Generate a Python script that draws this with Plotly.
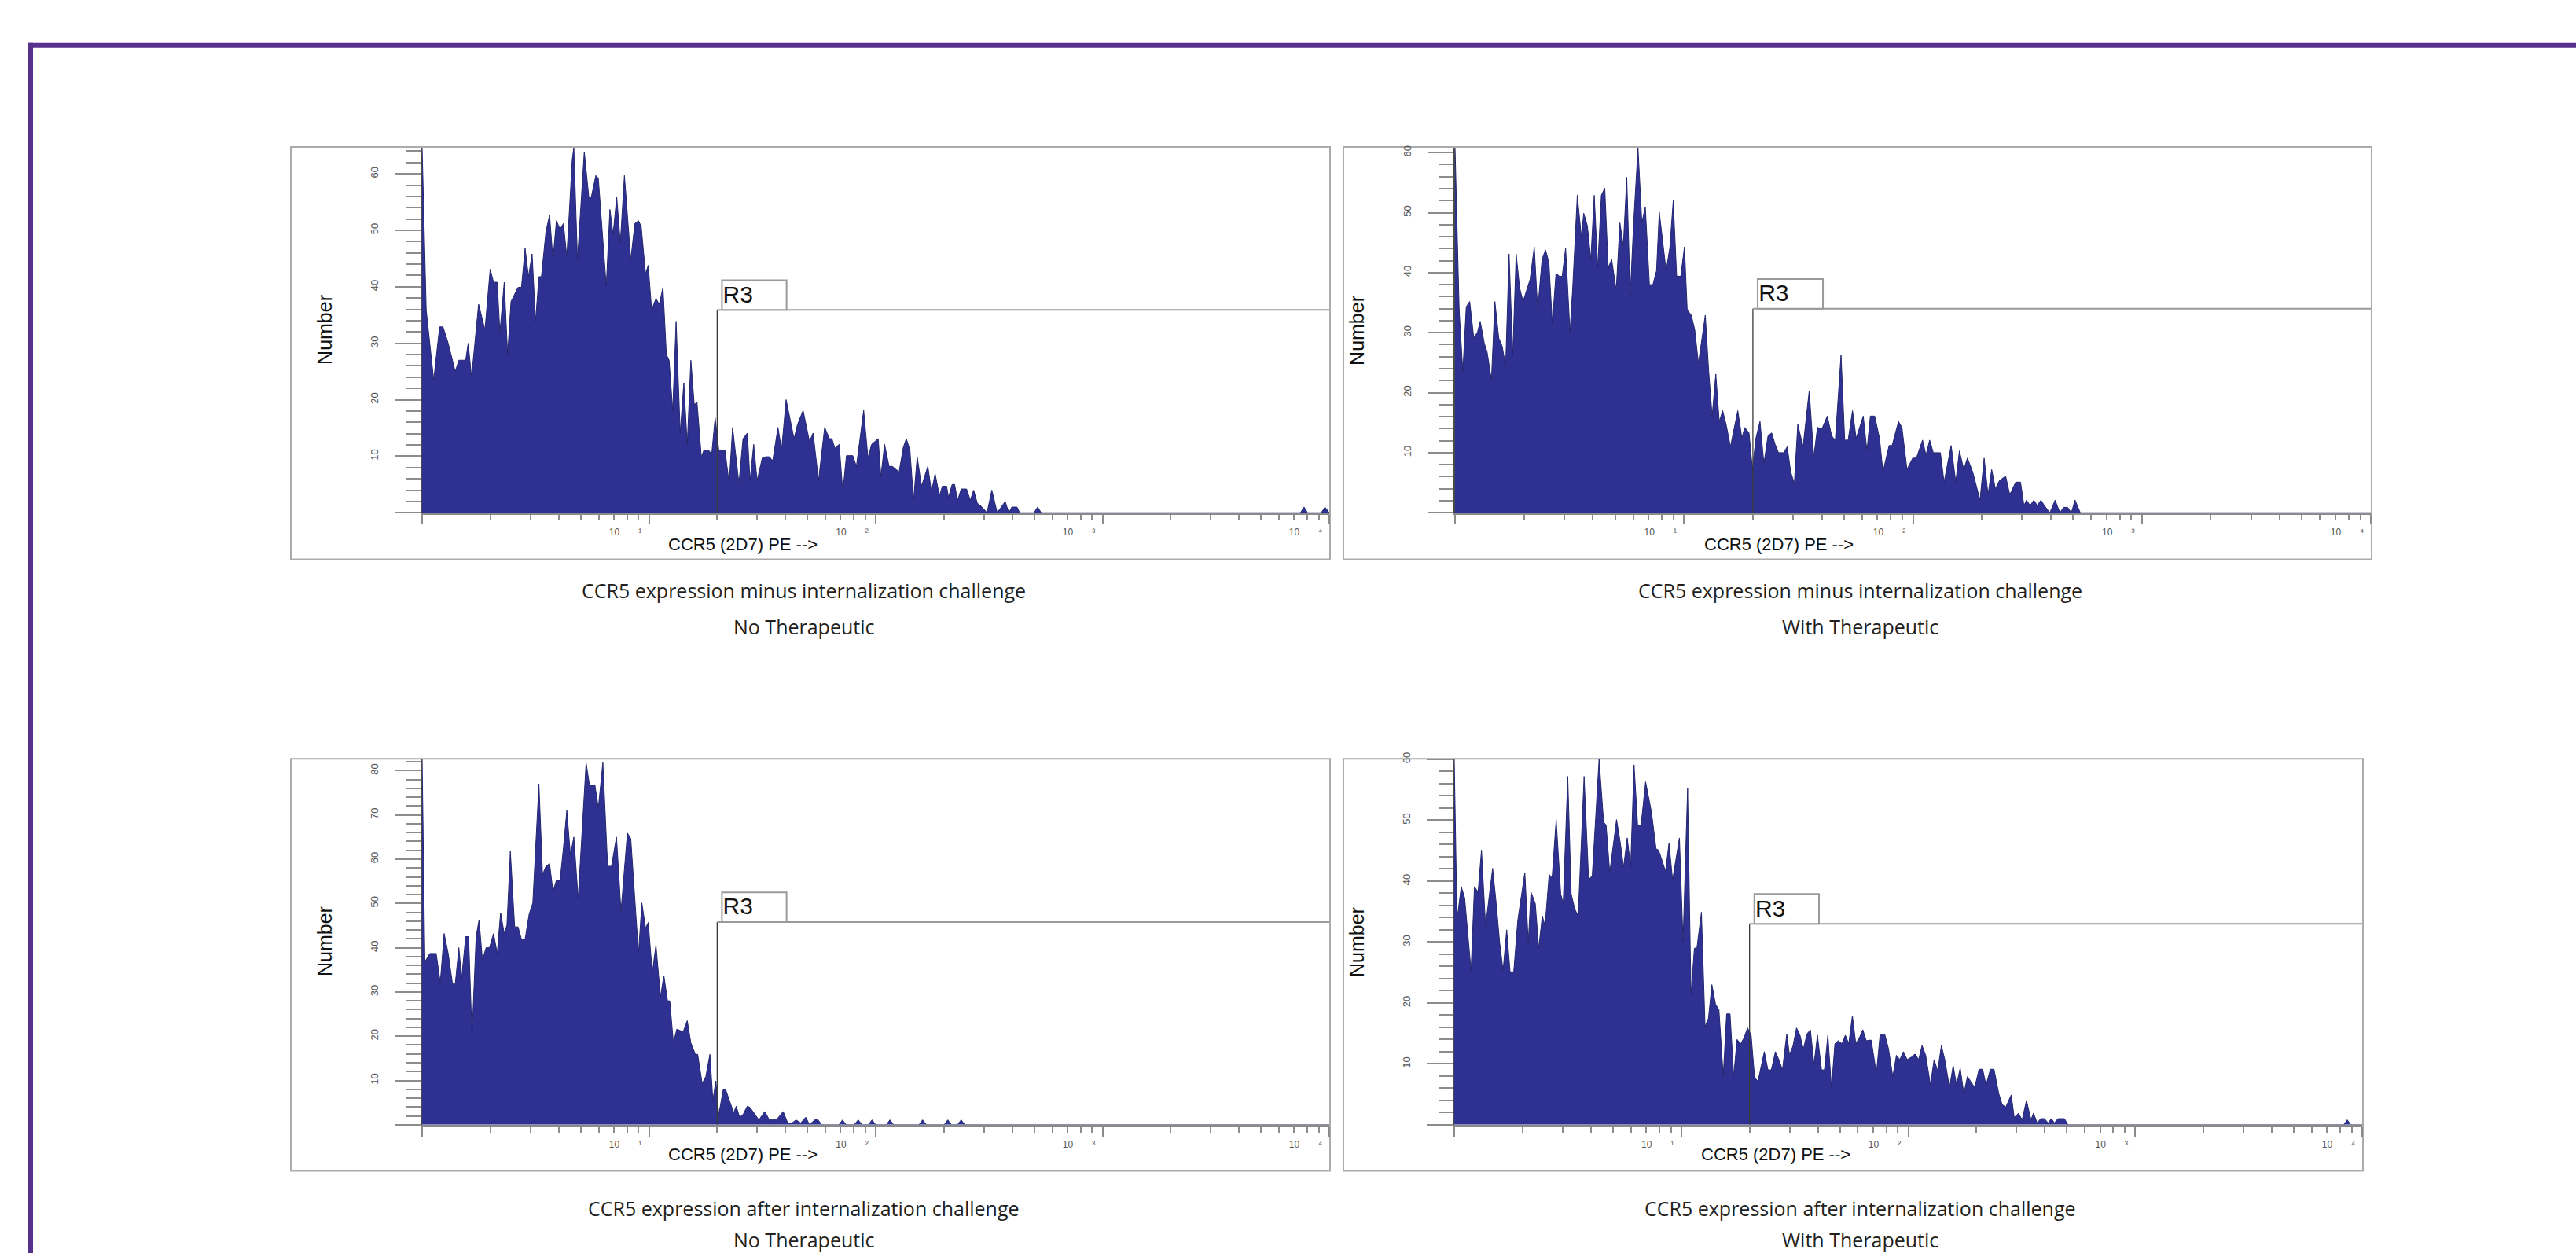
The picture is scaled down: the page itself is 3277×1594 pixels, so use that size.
import plotly.graph_objects as go

W, H = 3277, 1594

# ---------------- data ----------------
# x: log10 of CCR5 (2D7) PE intensity, y: number of events (histogram outline vertices)
tl_log_pe = [0.000, 0.018, 0.051, 0.077, 0.092, 0.115, 0.146, 0.162, 0.192, 0.203, 0.218, 0.249, 0.277, 0.300,
             0.315, 0.331, 0.343, 0.362, 0.377, 0.392, 0.423, 0.438, 0.454, 0.469, 0.485, 0.500, 0.515, 0.526,
             0.546, 0.562, 0.577, 0.592, 0.608, 0.623, 0.638, 0.662, 0.669, 0.685, 0.715, 0.735, 0.746, 0.766,
             0.777, 0.812, 0.828, 0.842, 0.858, 0.874, 0.892, 0.920, 0.938, 0.954, 0.966, 0.985, 0.997, 1.012,
             1.031, 1.046, 1.062, 1.077, 1.089, 1.105, 1.120, 1.138, 1.154, 1.169, 1.185, 1.200, 1.212, 1.231,
             1.243, 1.262, 1.277, 1.292, 1.308, 1.335, 1.354, 1.369, 1.397, 1.415, 1.434, 1.446, 1.462, 1.477,
             1.500, 1.515, 1.531, 1.546, 1.569, 1.585, 1.605, 1.640, 1.655, 1.680, 1.708, 1.724, 1.748, 1.775,
             1.796, 1.807, 1.820, 1.839, 1.855, 1.871, 1.899, 1.915, 1.947, 1.966, 1.982, 2.011, 2.023, 2.039,
             2.059, 2.074, 2.103, 2.122, 2.135, 2.151, 2.167, 2.183, 2.202, 2.230, 2.246, 2.262, 2.281, 2.294,
             2.313, 2.321, 2.337, 2.348, 2.361, 2.377, 2.401, 2.417, 2.432, 2.448, 2.469, 2.491, 2.512, 2.536,
             2.571, 2.587, 2.600, 2.623, 2.635, 2.698, 2.714, 2.730, 3.873, 3.889, 3.904, 3.965, 3.981, 4.000]
tl_count = [64.6, 35.9, 23.5, 32.9, 32.9, 30.0, 25.0, 27.0, 27.0, 30.0, 24.0, 36.9, 32.4, 43.1,
            40.8, 40.8, 31.9, 40.8, 28.0, 37.4, 39.9, 39.9, 46.8, 41.8, 45.8, 33.9, 41.8, 41.8,
            49.8, 52.7, 44.8, 51.7, 50.2, 51.2, 45.3, 62.6, 64.6, 44.8, 63.9, 55.9, 55.9, 59.7,
            59.2, 40.1, 53.7, 49.3, 55.9, 47.8, 59.7, 44.8, 51.2, 51.7, 50.7, 42.3, 43.8, 35.9,
            37.9, 36.9, 39.9, 28.0, 27.0, 18.1, 33.9, 14.1, 23.0, 12.1, 27.0, 19.1, 19.6, 9.9,
            11.1, 11.1, 10.4, 16.8, 11.1, 11.1, 5.2, 15.1, 5.2, 13.1, 14.1, 5.7, 12.1, 5.7,
            9.7, 9.9, 9.9, 9.2, 15.1, 11.1, 20.0, 13.1, 15.6, 18.1, 12.6, 14.1, 5.7, 15.1,
            13.1, 13.1, 11.4, 12.1, 3.7, 10.1, 10.1, 8.2, 18.1, 9.7, 12.1, 13.1, 6.4, 12.1,
            8.2, 8.2, 7.2, 11.6, 13.1, 11.1, 2.2, 9.9, 4.7, 8.2, 3.7, 6.9, 3.0, 4.7,
            4.7, 2.7, 5.0, 5.0, 2.2, 4.2, 4.2, 2.2, 4.0, 1.7, 1.0, 0.0, 4.0, 0.0,
            2.0, 0.0, 1.0, 1.0, 0.0, 0.0, 1.0, 0.0, 0.0, 1.0, 0.0, 0.0, 1.0, 0.0]

tr_log_pe = [0.000, 0.018, 0.034, 0.049, 0.064, 0.082, 0.098, 0.110, 0.128, 0.140, 0.159, 0.174, 0.191, 0.206,
             0.221, 0.236, 0.252, 0.267, 0.282, 0.297, 0.328, 0.346, 0.361, 0.380, 0.395, 0.410, 0.425, 0.441,
             0.456, 0.468, 0.483, 0.502, 0.514, 0.534, 0.552, 0.562, 0.578, 0.593, 0.608, 0.623, 0.639, 0.654,
             0.669, 0.684, 0.704, 0.720, 0.735, 0.750, 0.765, 0.780, 0.799, 0.816, 0.831, 0.849, 0.864, 0.880,
             0.892, 0.907, 0.922, 0.938, 0.953, 0.968, 0.986, 1.002, 1.014, 1.032, 1.047, 1.063, 1.081, 1.093,
             1.108, 1.123, 1.139, 1.154, 1.169, 1.184, 1.203, 1.215, 1.235, 1.253, 1.265, 1.284, 1.299, 1.314,
             1.332, 1.349, 1.367, 1.383, 1.398, 1.413, 1.436, 1.451, 1.466, 1.482, 1.497, 1.520, 1.547, 1.567,
             1.583, 1.603, 1.626, 1.645, 1.661, 1.686, 1.702, 1.717, 1.736, 1.752, 1.783, 1.799, 1.814, 1.833,
             1.854, 1.869, 1.896, 1.909, 1.937, 1.952, 1.974, 1.999, 2.015, 2.042, 2.057, 2.073, 2.089, 2.120,
             2.136, 2.167, 2.187, 2.203, 2.222, 2.238, 2.261, 2.293, 2.311, 2.328, 2.344, 2.360, 2.379, 2.405,
             2.423, 2.449, 2.470, 2.485, 2.496, 2.512, 2.528, 2.543, 2.559, 2.574, 2.598, 2.621, 2.642, 2.658,
             2.676, 2.692, 2.708, 2.731, 4.000]
tr_count = [60.8, 33.8, 23.5, 34.3, 35.2, 29.1, 30.1, 31.9, 28.2, 26.8, 22.1, 35.2, 29.1, 27.7,
            24.5, 43.1, 26.3, 43.1, 37.5, 35.2, 38.9, 44.3, 33.8, 42.2, 43.8, 41.7, 31.5, 39.9,
            39.4, 39.4, 44.1, 30.1, 37.5, 52.9, 45.9, 49.9, 47.8, 42.2, 52.9, 40.8, 52.9, 54.1,
            40.8, 42.2, 37.1, 48.3, 44.5, 55.9, 36.1, 48.3, 60.8, 48.3, 51.0, 38.0, 38.0, 40.3,
            50.1, 45.0, 40.3, 44.1, 52.0, 39.4, 39.4, 44.3, 33.8, 32.9, 30.5, 24.9, 30.1, 32.9,
            23.5, 16.1, 23.1, 15.2, 17.0, 14.7, 11.0, 13.3, 17.0, 12.4, 14.2, 13.3, 7.2, 12.4,
            15.2, 8.2, 12.8, 13.3, 11.4, 10.0, 10.0, 11.0, 6.8, 4.9, 14.7, 11.0, 20.3, 9.3,
            14.2, 14.0, 16.1, 12.8, 12.1, 26.3, 12.1, 12.1, 17.0, 12.4, 16.1, 10.3, 16.1, 16.1,
            12.4, 6.8, 11.2, 11.2, 15.2, 14.2, 7.2, 9.1, 9.1, 12.1, 9.6, 12.1, 10.0, 10.0,
            5.1, 11.2, 5.1, 10.3, 7.2, 9.1, 6.8, 2.1, 9.1, 3.0, 7.2, 4.0, 5.4, 6.1,
            3.0, 5.1, 5.1, 1.2, 2.1, 1.2, 2.1, 1.2, 2.1, 1.2, 0.0, 2.1, 0.0, 0.9,
            0.9, 0.0, 2.1, 0.0, 0.0]

bl_log_pe = [0.000, 0.012, 0.034, 0.062, 0.080, 0.097, 0.115, 0.134, 0.146, 0.162, 0.174, 0.192, 0.205, 0.220,
             0.238, 0.251, 0.266, 0.282, 0.297, 0.315, 0.331, 0.346, 0.362, 0.374, 0.389, 0.408, 0.423, 0.438,
             0.454, 0.472, 0.488, 0.515, 0.531, 0.546, 0.562, 0.577, 0.592, 0.608, 0.623, 0.638, 0.654, 0.669,
             0.688, 0.703, 0.723, 0.738, 0.762, 0.777, 0.797, 0.818, 0.835, 0.857, 0.877, 0.905, 0.920, 0.954,
             0.969, 0.985, 0.997, 1.015, 1.031, 1.051, 1.066, 1.082, 1.092, 1.108, 1.123, 1.151, 1.169, 1.185,
             1.205, 1.215, 1.235, 1.251, 1.269, 1.282, 1.295, 1.308, 1.328, 1.338, 1.357, 1.374, 1.385, 1.400,
             1.415, 1.434, 1.446, 1.462, 1.485, 1.511, 1.531, 1.562, 1.592, 1.612, 1.631, 1.649, 1.669, 1.692,
             1.708, 1.731, 1.746, 1.762, 1.838, 1.854, 1.869, 1.905, 1.923, 1.939, 1.968, 1.984, 2.000, 2.047,
             2.063, 2.079, 2.191, 2.207, 2.223, 2.302, 2.318, 2.334, 2.361, 2.377, 2.393, 4.000]
bl_count = [82.7, 36.8, 38.7, 38.7, 32.1, 43.2, 38.7, 31.8, 31.8, 40.0, 33.0, 42.5, 42.5, 20.1,
            42.5, 46.3, 37.2, 40.0, 40.0, 43.2, 38.7, 47.9, 43.2, 45.1, 61.8, 44.7, 44.7, 41.9,
            41.9, 47.6, 50.1, 77.0, 56.5, 58.4, 59.0, 52.7, 55.2, 55.2, 62.5, 71.0, 60.9, 65.0,
            51.1, 64.1, 81.8, 76.7, 76.7, 71.6, 81.8, 58.4, 58.4, 65.0, 48.2, 65.9, 64.7, 38.7,
            50.1, 44.4, 45.7, 34.3, 40.6, 28.9, 33.7, 28.0, 28.0, 18.5, 21.6, 21.0, 23.5, 18.5,
            15.9, 15.9, 9.3, 10.9, 15.9, 5.5, 9.9, 2.3, 8.0, 8.0, 5.2, 2.7, 4.2, 1.7,
            2.3, 4.2, 3.9, 2.7, 1.1, 3.0, 1.1, 1.1, 3.0, 0.4, 0.4, 1.1, 0.4, 1.7,
            0.0, 1.1, 1.1, 0.0, 0.0, 1.1, 0.0, 0.0, 1.1, 0.0, 0.0, 1.1, 0.0, 0.0,
            1.1, 0.0, 0.0, 1.1, 0.0, 0.0, 1.1, 0.0, 0.0, 1.1, 0.0, 0.0]

br_log_pe = [0.000, 0.012, 0.031, 0.046, 0.074, 0.089, 0.105, 0.120, 0.138, 0.169, 0.185, 0.200, 0.215, 0.231,
             0.246, 0.262, 0.280, 0.311, 0.326, 0.338, 0.357, 0.372, 0.388, 0.400, 0.418, 0.431, 0.449, 0.469,
             0.480, 0.500, 0.515, 0.531, 0.546, 0.572, 0.592, 0.608, 0.638, 0.658, 0.669, 0.685, 0.715, 0.731,
             0.746, 0.762, 0.777, 0.792, 0.808, 0.823, 0.843, 0.869, 0.889, 0.900, 0.911, 0.931, 0.946, 0.962,
             0.992, 1.008, 1.028, 1.043, 1.058, 1.069, 1.089, 1.105, 1.120, 1.135, 1.151, 1.166, 1.185, 1.200,
             1.215, 1.231, 1.246, 1.262, 1.277, 1.292, 1.308, 1.323, 1.338, 1.366, 1.382, 1.397, 1.415, 1.431,
             1.446, 1.465, 1.477, 1.492, 1.508, 1.523, 1.538, 1.554, 1.569, 1.585, 1.600, 1.618, 1.631, 1.646,
             1.662, 1.677, 1.692, 1.708, 1.723, 1.738, 1.754, 1.769, 1.785, 1.800, 1.815, 1.837, 1.860, 1.876,
             1.897, 1.913, 1.932, 1.948, 1.963, 1.979, 1.995, 2.014, 2.030, 2.046, 2.061, 2.077, 2.098, 2.114,
             2.130, 2.146, 2.161, 2.182, 2.198, 2.213, 2.229, 2.245, 2.261, 2.277, 2.293, 2.312, 2.328, 2.343,
             2.362, 2.378, 2.399, 2.414, 2.430, 2.454, 2.467, 2.486, 2.502, 2.521, 2.541, 2.552, 2.568, 2.584,
             2.600, 2.616, 2.631, 2.644, 2.660, 2.688, 2.704, 3.919, 3.934, 3.950, 4.000]
br_count = [60.0, 33.6, 39.1, 37.2, 25.3, 39.1, 38.2, 45.1, 32.6, 42.1, 36.3, 29.9, 25.3, 32.0,
            25.1, 25.1, 33.6, 41.4, 29.9, 38.2, 36.3, 29.0, 34.3, 32.6, 41.1, 40.5, 50.1, 37.9,
            36.3, 57.2, 37.9, 35.4, 34.3, 57.2, 40.2, 40.9, 60.0, 49.7, 49.2, 41.4, 50.1, 46.4,
            42.3, 47.1, 42.3, 59.1, 49.2, 49.2, 56.3, 51.3, 45.3, 45.1, 43.9, 41.6, 46.2, 40.2,
            47.1, 30.1, 55.2, 21.4, 29.0, 29.0, 34.9, 16.1, 17.5, 23.0, 19.8, 18.9, 8.0, 18.2,
            18.2, 8.0, 14.0, 13.3, 14.3, 15.9, 14.7, 7.8, 7.1, 12.0, 9.0, 9.0, 12.0, 10.6,
            9.0, 14.9, 11.5, 12.9, 15.9, 14.7, 12.4, 14.9, 15.6, 9.9, 14.7, 9.0, 9.0, 14.7,
            6.0, 13.3, 13.8, 13.3, 14.7, 13.3, 17.9, 13.3, 14.3, 15.6, 13.8, 13.9, 8.4, 14.8,
            14.8, 12.5, 7.9, 11.4, 10.7, 12.0, 10.7, 11.1, 11.6, 10.7, 13.0, 11.4, 6.5, 10.7,
            8.8, 13.0, 10.7, 6.1, 9.7, 6.5, 9.3, 5.1, 7.9, 7.0, 6.1, 9.1, 9.1, 6.5,
            9.1, 9.1, 5.1, 3.3, 2.9, 4.9, 1.2, 1.9, 0.8, 4.0, 0.8, 1.9, 0.3, 1.0,
            1.0, 0.3, 1.0, 0.3, 1.0, 1.0, 0.0, 0.0, 0.8, 0.0, 0.0]

# R3 gate: lower bound (PE intensity) and drawn level (events) per panel
gate_pe = 20
gate_label_pe = [10 ** 1.322, 10 ** 1.607]
gate_level = {"tl": 35.9, "tr": 34.0, "bl": 45.8, "br": 33.0}
y_max = {"tl": 64.6, "tr": 60.8, "bl": 82.7, "br": 60.1}
y_tick_top = {"tl": 60, "tr": 60, "bl": 80, "br": 60}

x_tick_vals = [1, 10, 100, 1000, 10000]
x_tick_text = ["", "10\u2003\u2003\u00b9", "10\u2003\u2003\u00b2", "10\u2003\u2003\u00b3", "10\u2003\u2003\u2074"]
x_minor_vals = [m * 10 ** e for e in range(4) for m in range(2, 10)]

captions = {
    "tl": ["CCR5 expression minus internalization challenge", "No Therapeutic"],
    "tr": ["CCR5 expression minus internalization challenge", "With Therapeutic"],
    "bl": ["CCR5 expression after internalization challenge", "No Therapeutic"],
    "br": ["CCR5 expression after internalization challenge", "With Therapeutic"],
}
series = {"tl": (tl_log_pe, tl_count), "tr": (tr_log_pe, tr_count),
          "bl": (bl_log_pe, bl_count), "br": (br_log_pe, br_count)}

# ---------------- layout geometry (pixels) ----------------
geom = {
    "tl": dict(axl=537, axr=1691, top=181, base=647.5, box=(370, 180, 1692, 707), num=(413, 414),
               xt=(945, 688), cap=(1023, 747, 793)),
    "tr": dict(axl=1851, axr=3016, top=181, base=647.5, box=(1709, 180, 3017, 707), num=(1726, 414),
               xt=(2263, 688), cap=(2366, 747, 793)),
    "bl": dict(axl=537, axr=1691, top=962, base=1430, box=(370, 962, 1692, 1489), num=(413, 1196),
               xt=(945, 1468), cap=(1023, 1537, 1577)),
    "br": dict(axl=1850, axr=3005, top=962, base=1430, box=(1709, 962, 3006, 1489), num=(1726, 1196),
               xt=(2259, 1468), cap=(2366, 1537, 1577)),
}

FILL = "#2E3192"
EDGE = "#23266E"
TICKC = "#8C8C8C"
LABC = "#555555"
AXF = "Liberation Sans, Arial, sans-serif"
CAPF = "Open Sans, Noto Sans, sans-serif"


def px(x):
    return x / W


def py(y):
    return 1 - y / H


fig = go.Figure()
shapes = []
annotations = []

for i, key in enumerate(["tl", "tr", "bl", "br"], start=1):
    g = geom[key]
    xa = "x" if i == 1 else f"x{i}"
    ya = "y" if i == 1 else f"y{i}"
    lx, cnt = series[key]
    xs = [10 ** v for v in lx]

    fig.add_trace(go.Scatter(x=xs, y=cnt, mode="lines", fill="tozeroy", fillcolor=FILL,
                             line=dict(color=EDGE, width=1), xaxis=xa, yaxis=ya,
                             showlegend=False, hoverinfo="skip"))
    gl = gate_level[key]
    fig.add_trace(go.Scatter(x=[gate_pe, gate_pe], y=[0, gl], mode="lines",
                             line=dict(color="#3a3a3a", width=1.3), xaxis=xa, yaxis=ya,
                             showlegend=False, hoverinfo="skip"))
    fig.add_trace(go.Scatter(x=[gate_pe, 10 ** 4], y=[gl, gl], mode="lines",
                             line=dict(color="#9a9a9a", width=2), xaxis=xa, yaxis=ya,
                             showlegend=False, hoverinfo="skip"))
    plot_h = g["base"] - g["top"]
    bh = y_max[key] * 38 / plot_h
    x0, x1 = gate_label_pe
    fig.add_trace(go.Scatter(x=[x0, x1, x1, x0, x0], y=[gl, gl, gl + bh, gl + bh, gl], mode="lines",
                             fill="toself", fillcolor="white", line=dict(color="#9a9a9a", width=2),
                             xaxis=xa, yaxis=ya, showlegend=False, hoverinfo="skip"))
    fig.add_trace(go.Scatter(x=[10 ** 1.326], y=[gl + bh * 0.45], mode="text", text=["R3"],
                             textposition="middle right",
                             textfont=dict(family=AXF, size=30, color="#111111"),
                             xaxis=xa, yaxis=ya, showlegend=False, hoverinfo="skip"))

    yt = list(range(0, y_tick_top[key] + 1, 10))
    ytt = [""] + [str(v) for v in yt[1:]]
    fig.layout[("xaxis" if i == 1 else f"xaxis{i}")] = dict(
        type="log", range=[0, 4], domain=[px(g["axl"]), px(g["axr"])], anchor=ya,
        showgrid=False, zeroline=False, showline=True, linecolor="#8A8A8A", linewidth=2.5,
        tickmode="array", tickvals=x_tick_vals, ticktext=x_tick_text, ticks="outside",
        ticklen=12, tickwidth=2, tickcolor=TICKC, ticklabelshift=-30,
        tickfont=dict(family=AXF, size=12, color=LABC),
        minor=dict(tickmode="array", tickvals=x_minor_vals, ticks="outside", ticklen=7,
                   tickwidth=1.5, tickcolor=TICKC),
        fixedrange=True,
    )
    fig.layout[("yaxis" if i == 1 else f"yaxis{i}")] = dict(
        range=[0, y_max[key]], domain=[py(g["base"]), py(g["top"])], anchor=xa,
        showgrid=False, zeroline=False, showline=True, linecolor="#4a4a4a", linewidth=2,
        tickmode="array", tickvals=yt, ticktext=ytt, ticks="outside", ticklen=33, tickwidth=2,
        tickcolor=TICKC, tickangle=-90, ticklabelstandoff=16,
        tickfont=dict(family=AXF, size=13, color=LABC),
        minor=dict(dtick=2, tick0=0, ticks="outside", ticklen=18, tickwidth=1.5, tickcolor=TICKC),
        fixedrange=True,
    )

    bx0, by0, bx1, by1 = g["box"]
    shapes.append(dict(type="rect", xref="paper", yref="paper", x0=px(bx0), x1=px(bx1),
                       y0=py(by1), y1=py(by0), line=dict(color="#ABABAB", width=2), layer="below"))
    annotations.append(dict(x=px(g["num"][0]), y=py(g["num"][1]), xref="paper", yref="paper",
                            text="Number", textangle=-90, showarrow=False,
                            font=dict(family=AXF, size=25, color="#111111"),
                            xanchor="center", yanchor="middle"))
    annotations.append(dict(x=px(g["xt"][0]), y=py(g["xt"][1]), xref="paper", yref="paper",
                            text="CCR5 (2D7) PE -->", showarrow=False,
                            font=dict(family=AXF, size=22, color="#111111"),
                            xanchor="center", yanchor="middle"))
    cx, cy1, cy2 = g["cap"]
    for txt, cy in zip(captions[key], [cy1, cy2]):
        annotations.append(dict(x=px(cx), y=py(cy), xref="paper", yref="paper", text=txt,
                                showarrow=False, font=dict(family=CAPF, size=25, color="#231F20"),
                                xanchor="center", yanchor="middle"))

# purple page frame (top and left rules)
shapes.append(dict(type="rect", xref="paper", yref="paper", x0=px(36), x1=1, y0=py(53), y1=py(47),
                   fillcolor="#56308C", line=dict(width=0)))
shapes.append(dict(type="rect", xref="paper", yref="paper", x0=px(36), x1=px(42), y0=0, y1=py(47),
                   fillcolor="#56308C", line=dict(width=0)))

fig.update_layout(width=W, height=H, autosize=False, margin=dict(l=0, r=0, t=0, b=0, pad=0),
                  paper_bgcolor="white", plot_bgcolor="white", shapes=shapes,
                  annotations=annotations, showlegend=False)

fig.write_html("out.html", config={"displayModeBar": False},
               post_script="document.body.style.margin='0px';document.body.style.padding='0px';"
                           "document.documentElement.style.overflow='hidden';")
